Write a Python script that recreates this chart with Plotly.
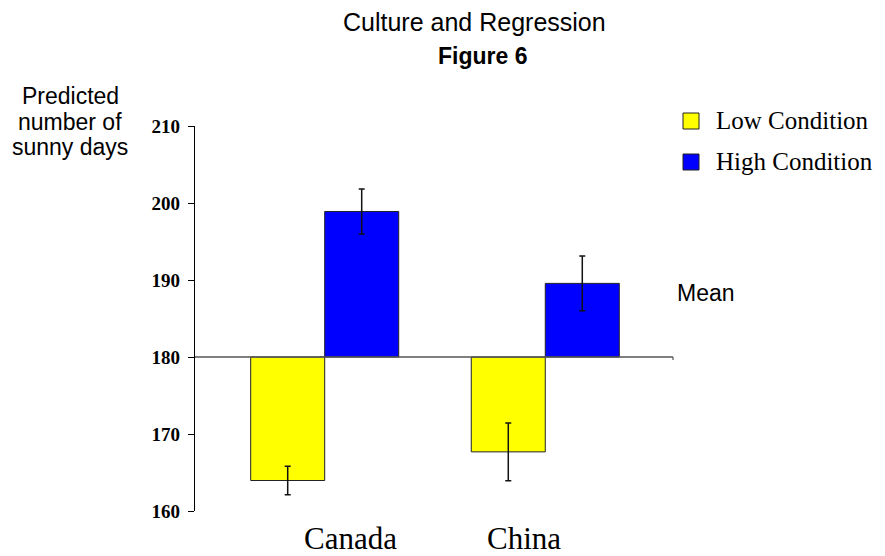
import plotly.graph_objects as go

# Data: predicted number of sunny days by culture and condition
categories = ["Canada", "China"]
series_names = ["Low Condition", "High Condition"]
low_values = [163.96, 167.68]
low_errors = [1.84, 3.75]
high_values = [198.9, 189.56]
high_errors = [2.92, 3.55]
mean_value = 180
y_ticks = [160, 170, 180, 190, 200, 210]

colors = ["#FFFF00", "#0000FF"]

fig = go.Figure()

for name, vals, errs, col in [
    (series_names[0], low_values, low_errors, colors[0]),
    (series_names[1], high_values, high_errors, colors[1]),
]:
    fig.add_trace(go.Bar(
        name=name,
        x=categories,
        y=[v - mean_value for v in vals],
        base=mean_value,
        marker=dict(color=col, line=dict(color="#222222", width=1)),
        error_y=dict(type="data", array=errs, visible=True,
                     color="#111111", thickness=1.5, width=3),
        showlegend=False,
    ))

# Reference line at the mean, with a small end tick
fig.add_shape(type="line", xref="paper", yref="y", x0=0, x1=1,
              y0=mean_value, y1=mean_value,
              line=dict(color="#555555", width=1.5))
fig.add_shape(type="line", xref="paper", yref="y", x0=1, x1=1,
              y0=mean_value, y1=mean_value - 0.4,
              line=dict(color="#555555", width=1.2))

# Hand-placed legend
px_x = lambda p: (p - 195) / 478.0
px_y = lambda p: (511 - p) / 385.0
legend_rows = [(113, 129), (154, 170)]
for (top, bot), name, col in zip(legend_rows, series_names, colors):
    fig.add_shape(type="rect", xref="paper", yref="paper",
                  x0=px_x(683), x1=px_x(699), y0=px_y(bot), y1=px_y(top),
                  fillcolor=col, line=dict(color="#222222", width=1))
    fig.add_annotation(text=name, xref="paper", yref="paper",
                       x=px_x(714), y=px_y((top + bot) / 2 - 1),
                       xanchor="left", yanchor="middle", showarrow=False,
                       font=dict(family="Liberation Serif", size=25, color="black"))

# Category labels under the groups
label_pos = [0.115, 0.903]
for xp, cat in zip(label_pos, categories):
    fig.add_annotation(text=cat, x=xp, xref="x", yref="paper", y=px_y(538),
                       xanchor="center", yanchor="middle", showarrow=False,
                       font=dict(family="Liberation Serif", size=31, color="black"))

# Titles
fig.add_annotation(text="Culture and Regression", xref="paper", yref="paper",
                   x=px_x(474), y=px_y(22), xanchor="center", yanchor="middle",
                   showarrow=False,
                   font=dict(family="Liberation Sans", size=25, color="black"))
fig.add_annotation(text="<b>Figure 6</b>", xref="paper", yref="paper",
                   x=px_x(482), y=px_y(56), xanchor="center", yanchor="middle",
                   showarrow=False,
                   font=dict(family="Liberation Sans", size=23, color="black"))

# Y-axis caption, one annotation per line
for line, cy in zip(["Predicted", "number of", "sunny days"], [96, 122, 147]):
    fig.add_annotation(text=line, xref="paper", yref="paper",
                       x=px_x(70), y=px_y(cy), xanchor="center", yanchor="middle",
                       showarrow=False,
                       font=dict(family="Liberation Sans", size=23, color="black"))

fig.add_annotation(text="Mean", xref="paper", yref="paper",
                   x=px_x(706), y=px_y(293), xanchor="center", yanchor="middle",
                   showarrow=False,
                   font=dict(family="Liberation Sans", size=23, color="black"))

fig.update_layout(
    width=885, height=556,
    margin=dict(l=195, r=212, t=126, b=45),
    paper_bgcolor="white", plot_bgcolor="white",
    barmode="group", bargap=0.329, bargroupgap=0,
    xaxis=dict(type="category", range=[-0.588, 1.579], showticklabels=False,
               showline=False, showgrid=False, zeroline=False, ticks=""),
    yaxis=dict(range=[160, 210], tickvals=y_ticks, showgrid=False, zeroline=False,
               showline=True, linecolor="black", linewidth=1.3,
               ticks="outside", ticklen=6, tickcolor="black", tickwidth=1.3,
               ticklabelstandoff=4,
               tickfont=dict(family="Liberation Serif", size=19, color="black",
                             weight="bold")),
)

fig.write_html("out.html")
